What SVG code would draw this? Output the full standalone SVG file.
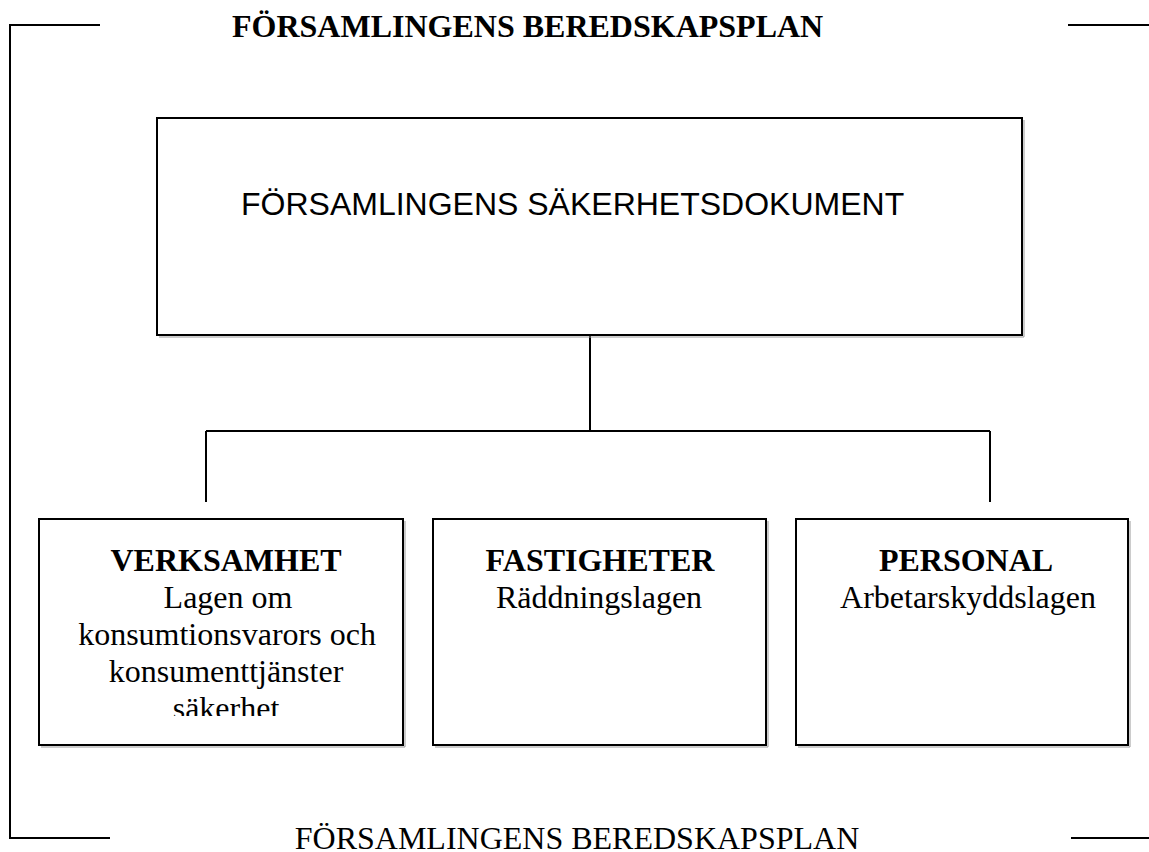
<svg xmlns="http://www.w3.org/2000/svg" width="1149" height="852" viewBox="0 0 1149 852">
<style>
.ln{stroke:#000;stroke-width:2;fill:none}
.bx{fill:#fff;stroke:#000;stroke-width:2}
.sh{fill:none;stroke:#999;stroke-width:1}
.ser{font-family:"Liberation Serif","Times New Roman",serif;font-size:32px;fill:#000}
.b{font-weight:bold}
.sans{font-family:"Liberation Sans",Arial,sans-serif;font-size:32px;fill:#000}
.c{text-anchor:middle}
</style>
<defs>
<clipPath id="clipL"><rect x="40" y="520" width="362" height="196"/></clipPath>
</defs>
<rect width="1149" height="852" fill="#fff"/>
<g id="frame">
<polyline class="ln" points="100,25 10,25 10,838 110,838"/>
<line class="ln" x1="1068" y1="25" x2="1149" y2="25"/>
<line class="ln" x1="1071" y1="838" x2="1149" y2="838"/>
<text class="ser b" x="232" y="37">FÖRSAMLINGENS BEREDSKAPSPLAN</text>
<text class="ser" x="577" y="849" text-anchor="middle">FÖRSAMLINGENS BEREDSKAPSPLAN</text>
</g>
<g id="connectors">
<line class="ln" x1="590" y1="335" x2="590" y2="431"/>
<line class="ln" x1="206" y1="431" x2="990" y2="431"/>
<line class="ln" x1="206" y1="431" x2="206" y2="502"/>
<line class="ln" x1="990" y1="431" x2="990" y2="502"/>
</g>
<g id="node-top">
<rect class="bx" x="157" y="118" width="865" height="217"/>
<polyline class="sh" points="1024,120 1024,337 159,337"/>
<text class="sans" x="241" y="215">FÖRSAMLINGENS SÄKERHETSDOKUMENT</text>
</g>
<g id="node-verksamhet">
<rect class="bx" x="39" y="519" width="364" height="226"/>
<polyline class="sh" points="405,521 405,747 41,747"/>
<g clip-path="url(#clipL)">
<text class="ser b c" x="226" y="571">VERKSAMHET</text>
<text class="ser c" x="228" y="608">Lagen om</text>
<text class="ser c" x="227" y="645">konsumtionsvarors och</text>
<text class="ser c" x="226" y="682">konsumenttjänster</text>
<text class="ser c" x="226" y="719">säkerhet</text>
</g>
</g>
<g id="node-fastigheter">
<rect class="bx" x="433" y="519" width="333" height="226"/>
<polyline class="sh" points="768,521 768,747 435,747"/>
<text class="ser b c" x="600" y="571">FASTIGHETER</text>
<text class="ser c" x="599" y="608">Räddningslagen</text>
</g>
<g id="node-personal">
<rect class="bx" x="796" y="519" width="332" height="226"/>
<polyline class="sh" points="1130,521 1130,747 798,747"/>
<text class="ser b c" x="966" y="571">PERSONAL</text>
<text class="ser c" x="968" y="608">Arbetarskyddslagen</text>
</g>
</svg>
